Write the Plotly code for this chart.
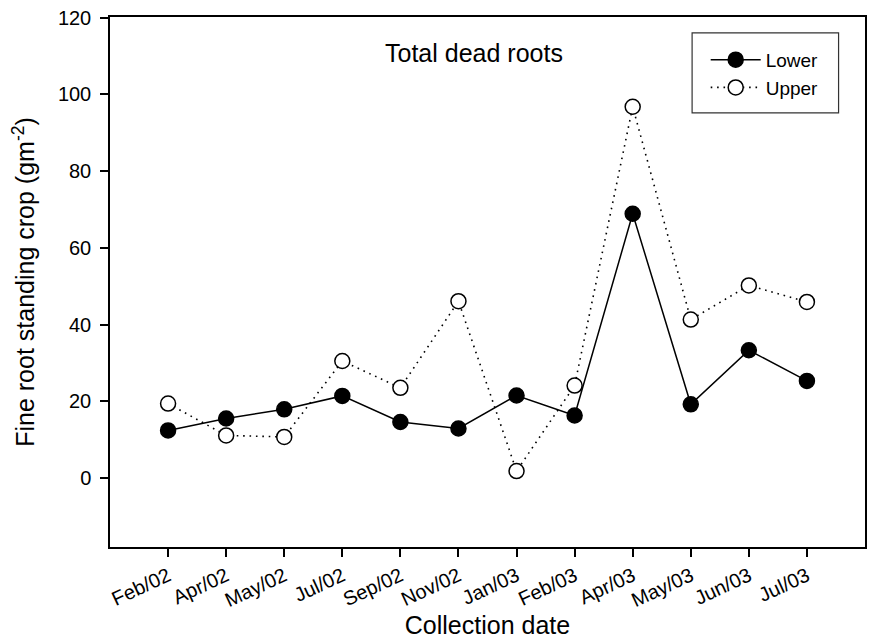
import plotly.graph_objects as go

# Collection dates and fine-root standing crop (g m^-2) of dead roots
dates = ["Feb/02", "Apr/02", "May/02", "Jul/02", "Sep/02", "Nov/02",
         "Jan/03", "Feb/03", "Apr/03", "May/03", "Jun/03", "Jul/03"]
lower = [12.4, 15.5, 17.9, 21.4, 14.6, 12.9, 21.5, 16.3, 68.9, 19.2, 33.3, 25.3]
upper = [19.4, 11.1, 10.7, 30.5, 23.5, 46.1, 1.8, 24.1, 96.8, 41.3, 50.2, 45.9]
y_ticks = [0, 20, 40, 60, 80, 100, 120]

FONT = "Liberation Sans, Arial, sans-serif"

fig = go.Figure()
fig.add_trace(go.Scatter(
    x=dates, y=lower, name="Lower", mode="lines+markers",
    line=dict(color="black", width=1.5),
    marker=dict(symbol="circle", size=15, color="black",
                line=dict(color="black", width=1.5)),
))
fig.add_trace(go.Scatter(
    x=dates, y=upper, name="Upper", mode="lines+markers",
    line=dict(color="black", width=1.6, dash="1.6px,4.8px"),
    marker=dict(symbol="circle", size=15, color="white",
                line=dict(color="black", width=1.5)),
))

fig.add_annotation(
    text="Total dead roots", x=0.482, y=0.932, xref="paper", yref="paper",
    showarrow=False, xanchor="center", yanchor="middle",
    font=dict(family=FONT, size=25, color="black"),
)

# legend frame
fig.add_shape(
    type="rect", xref="paper", yref="paper",
    x0=0.771, x1=0.965, y0=0.819, y1=0.970,
    line=dict(color="#333333", width=1.2), fillcolor="white", layer="below",
)

fig.update_layout(
    width=873, height=641,
    margin=dict(l=110, r=6, t=17, b=93),
    paper_bgcolor="white", plot_bgcolor="white",
    font=dict(family=FONT, size=20, color="black"),
    showlegend=True,
    legend=dict(
        x=0.789, y=0.955, xanchor="left", yanchor="top",
        borderwidth=0, bgcolor="rgba(0,0,0,0)",
        font=dict(family=FONT, size=19, color="black"),
        itemwidth=50, tracegroupgap=0,
    ),
    xaxis=dict(
        type="category", range=[-1, 12],
        showline=True, linecolor="black", linewidth=1.5, mirror=True,
        ticks="outside", ticklen=8, tickwidth=1.5, tickcolor="black",
        tickangle=-25, showgrid=False, zeroline=False,
        tickfont=dict(family=FONT, size=20),
        title=dict(text="Collection date", font=dict(family=FONT, size=25),
                   standoff=6),
    ),
    yaxis=dict(
        range=[-18, 120.2], tickvals=y_ticks,
        showline=True, linecolor="black", linewidth=1.5, mirror=True,
        ticks="outside", ticklen=8, tickwidth=1.5, tickcolor="black",
        ticklabelstandoff=5,
        showgrid=False, zeroline=False,
        tickfont=dict(family=FONT, size=20),
        title=dict(text="Fine root standing crop (gm<sup>-2</sup>)",
                   font=dict(family=FONT, size=25), standoff=16),
    ),
)

fig.write_html("out.html")
